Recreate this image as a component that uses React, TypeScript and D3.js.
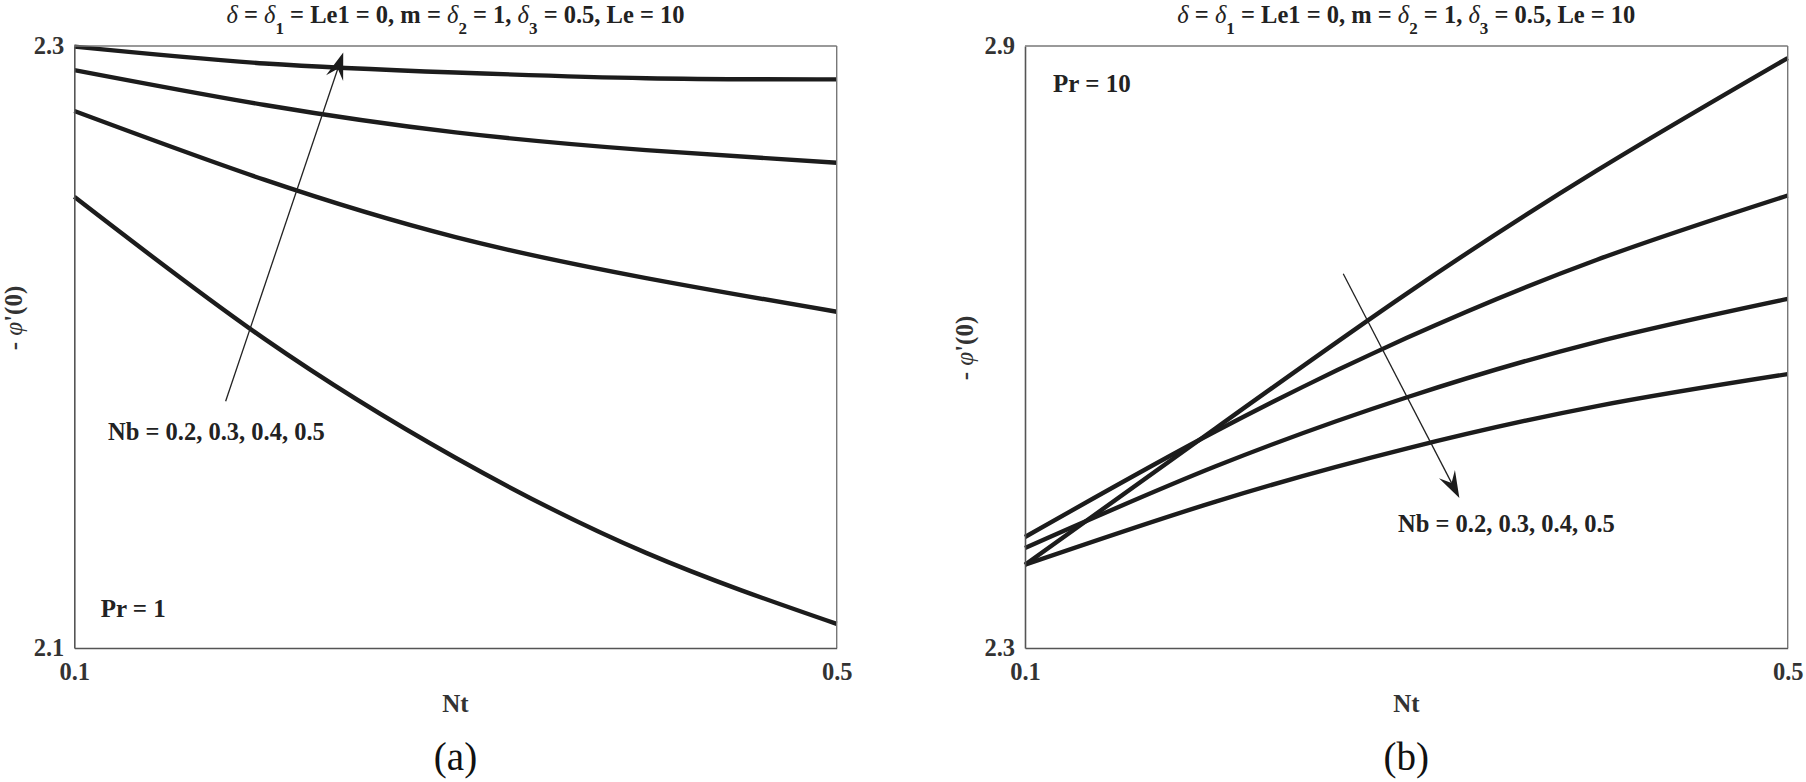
import { useEffect, useRef } from 'react';
import * as d3 from 'd3';

// Nt on the x axis, one curve per Nb
const ntValues = [0.1, 0.2, 0.3, 0.4, 0.5];
const nbValues = [0.2, 0.3, 0.4, 0.5];

// -phi'(0), Pr = 1
const pr1Nb02 = [2.2499, 2.2026, 2.1632, 2.1316, 2.108];
const pr1Nb03 = [2.2784, 2.2555, 2.2365, 2.2229, 2.2117];
const pr1Nb04 = [2.292, 2.2804, 2.2713, 2.2654, 2.2612];
const pr1Nb05 = [2.2998, 2.2942, 2.2912, 2.2893, 2.2889];

// -phi'(0), Pr = 10
const pr10Nb02 = [2.383, 2.519, 2.653, 2.776, 2.888];
const pr10Nb03 = [2.4106, 2.516, 2.6089, 2.687, 2.751];
const pr10Nb04 = [2.3997, 2.4811, 2.5497, 2.6052, 2.648];
const pr10Nb05 = [2.383, 2.4459, 2.4987, 2.5411, 2.573];

const ntTicks = [0.1, 0.5];
const pr1Ticks = [2.1, 2.3];
const pr10Ticks = [2.3, 2.9];

// annotation arrows, [Nt, value] of tail then head
const pr1Arrow = [[0.1794, 2.182], [0.2411, 2.2978]];
const pr10Arrow = [[0.2669, 2.673], [0.3278, 2.4495]];

const nbText = 'Nb = ' + nbValues.join(', ');
const serif = '"Liberation Serif", "Times New Roman", serif';

const W = 1806;
const H = 782;
const top = 46;
const bottom = 648;

const Panel = ({ left, right, series, yDomain, yTicks, arrow, prText, prPos, nbPos, labelY, caption }) => {
  const axisRef = useRef(null);

  const x = d3.scaleLinear().domain([0.1, 0.5]).range([left, right]);
  const y = d3.scaleLinear().domain(yDomain).range([bottom, top]);
  const cx = (left + right) / 2;

  const line = d3
    .line()
    .x((d, i) => x(ntValues[i]))
    .y((d) => y(d))
    .curve(d3.curveNatural);

  useEffect(() => {
    const g = d3.select(axisRef.current);
    g.selectAll('*').remove();

    const xAxis = d3
      .axisBottom(x)
      .tickValues(ntTicks)
      .tickSize(0)
      .tickSizeOuter(0)
      .tickPadding(15)
      .tickFormat(d3.format('.1f'));
    const yAxis = d3
      .axisLeft(y)
      .tickValues(yTicks)
      .tickSize(0)
      .tickSizeOuter(0)
      .tickPadding(10)
      .tickFormat(d3.format('.1f'));

    g.append('g').attr('transform', `translate(0,${bottom})`).call(xAxis);
    g.append('g').attr('transform', `translate(${left},0)`).call(yAxis);

    g.selectAll('.domain').attr('stroke', '#555').attr('stroke-width', 1.6);
    g.selectAll('text')
      .attr('font-family', serif)
      .attr('font-weight', 'bold')
      .attr('font-size', 24.5)
      .attr('fill', '#333');
    g.selectAll('g').attr('font-family', null).attr('font-size', null);

    // top and right edges of the box
    g.append('line')
      .attr('x1', left).attr('x2', right).attr('y1', top).attr('y2', top)
      .attr('stroke', '#777').attr('stroke-width', 1.4);
    g.append('line')
      .attr('x1', right).attr('x2', right).attr('y1', top).attr('y2', bottom)
      .attr('stroke', '#777').attr('stroke-width', 1.4);
  }, []);

  // arrow with a notched head
  const [tx, ty] = [x(arrow[0][0]), y(arrow[0][1])];
  const [hx, hy] = [x(arrow[1][0]), y(arrow[1][1])];
  const len = Math.hypot(hx - tx, hy - ty);
  const ux = (hx - tx) / len;
  const uy = (hy - ty) / len;
  const nx = -uy;
  const ny = ux;
  const headLen = 27;
  const headHalf = 9;
  const notch = 17;
  const head = [
    [hx, hy],
    [hx - headLen * ux + headHalf * nx, hy - headLen * uy + headHalf * ny],
    [hx - notch * ux, hy - notch * uy],
    [hx - headLen * ux - headHalf * nx, hy - headLen * uy - headHalf * ny],
  ];

  return (
    <g>
      <text x={cx} y={23} textAnchor="middle" fontFamily={serif} fontWeight="bold" fontSize={24.5} fill="#222">
        <tspan fontStyle="italic" fontWeight="normal">δ</tspan>
        <tspan> = </tspan>
        <tspan fontStyle="italic" fontWeight="normal">δ</tspan>
        <tspan dy={11} fontSize={17}>1</tspan>
        <tspan dy={-11}> = Le1 = 0, m = </tspan>
        <tspan fontStyle="italic" fontWeight="normal">δ</tspan>
        <tspan dy={11} fontSize={17}>2</tspan>
        <tspan dy={-11}> = 1, </tspan>
        <tspan fontStyle="italic" fontWeight="normal">δ</tspan>
        <tspan dy={11} fontSize={17}>3</tspan>
        <tspan dy={-11}> = 0.5, Le = 10</tspan>
      </text>

      {series.map((s, i) => (
        <path key={i} d={line(s)} fill="none" stroke="#1c1c1c" strokeWidth={4.4} strokeLinecap="butt" />
      ))}

      <g ref={axisRef} />

      <line
        x1={tx}
        y1={ty}
        x2={hx - notch * ux}
        y2={hy - notch * uy}
        stroke="#222"
        strokeWidth={1.3}
      />
      <polygon points={head.map((p) => p.join(',')).join(' ')} fill="#1c1c1c" />

      <text x={prPos[0]} y={prPos[1]} fontFamily={serif} fontWeight="bold" fontSize={25} fill="#222">
        {prText}
      </text>
      <text x={nbPos[0]} y={nbPos[1]} fontFamily={serif} fontWeight="bold" fontSize={24.5} fill="#222">
        {nbText}
      </text>

      <text x={cx} y={712} textAnchor="middle" fontFamily={serif} fontWeight="bold" fontSize={25} fill="#333">
        Nt
      </text>
      <text
        transform={`translate(${left - 52},${labelY}) rotate(-90)`}
        textAnchor="middle"
        fontFamily={serif}
        fontWeight="bold"
        fontSize={25}
        fill="#333"
      >
        -{' '}
        <tspan fontStyle="italic" fontWeight="normal">φ</tspan>
        '(0)
      </text>
      <text x={cx} y={770} textAnchor="middle" fontFamily={serif} fontSize={39} fill="#111">
        {caption}
      </text>
    </g>
  );
};

const App = () => {
  return (
    <svg
      width={W}
      height={H}
      viewBox={`0 0 ${W} ${H}`}
      style={{ position: 'absolute', left: 0, top: 0, background: '#fff' }}
    >
      <Panel
        left={74.3}
        right={836.7}
        series={[pr1Nb02, pr1Nb03, pr1Nb04, pr1Nb05]}
        yDomain={[2.1, 2.3]}
        yTicks={pr1Ticks}
        arrow={pr1Arrow}
        prText="Pr = 1"
        prPos={[100.7, 617]}
        nbPos={[108, 440]}
        labelY={318}
        caption="(a)"
      />
      <Panel
        left={1025}
        right={1787.7}
        series={[pr10Nb02, pr10Nb03, pr10Nb04, pr10Nb05]}
        yDomain={[2.3, 2.9]}
        yTicks={pr10Ticks}
        arrow={pr10Arrow}
        prText="Pr = 10"
        prPos={[1053, 92]}
        nbPos={[1398, 532]}
        labelY={348}
        caption="(b)"
      />
    </svg>
  );
};

export default App;
